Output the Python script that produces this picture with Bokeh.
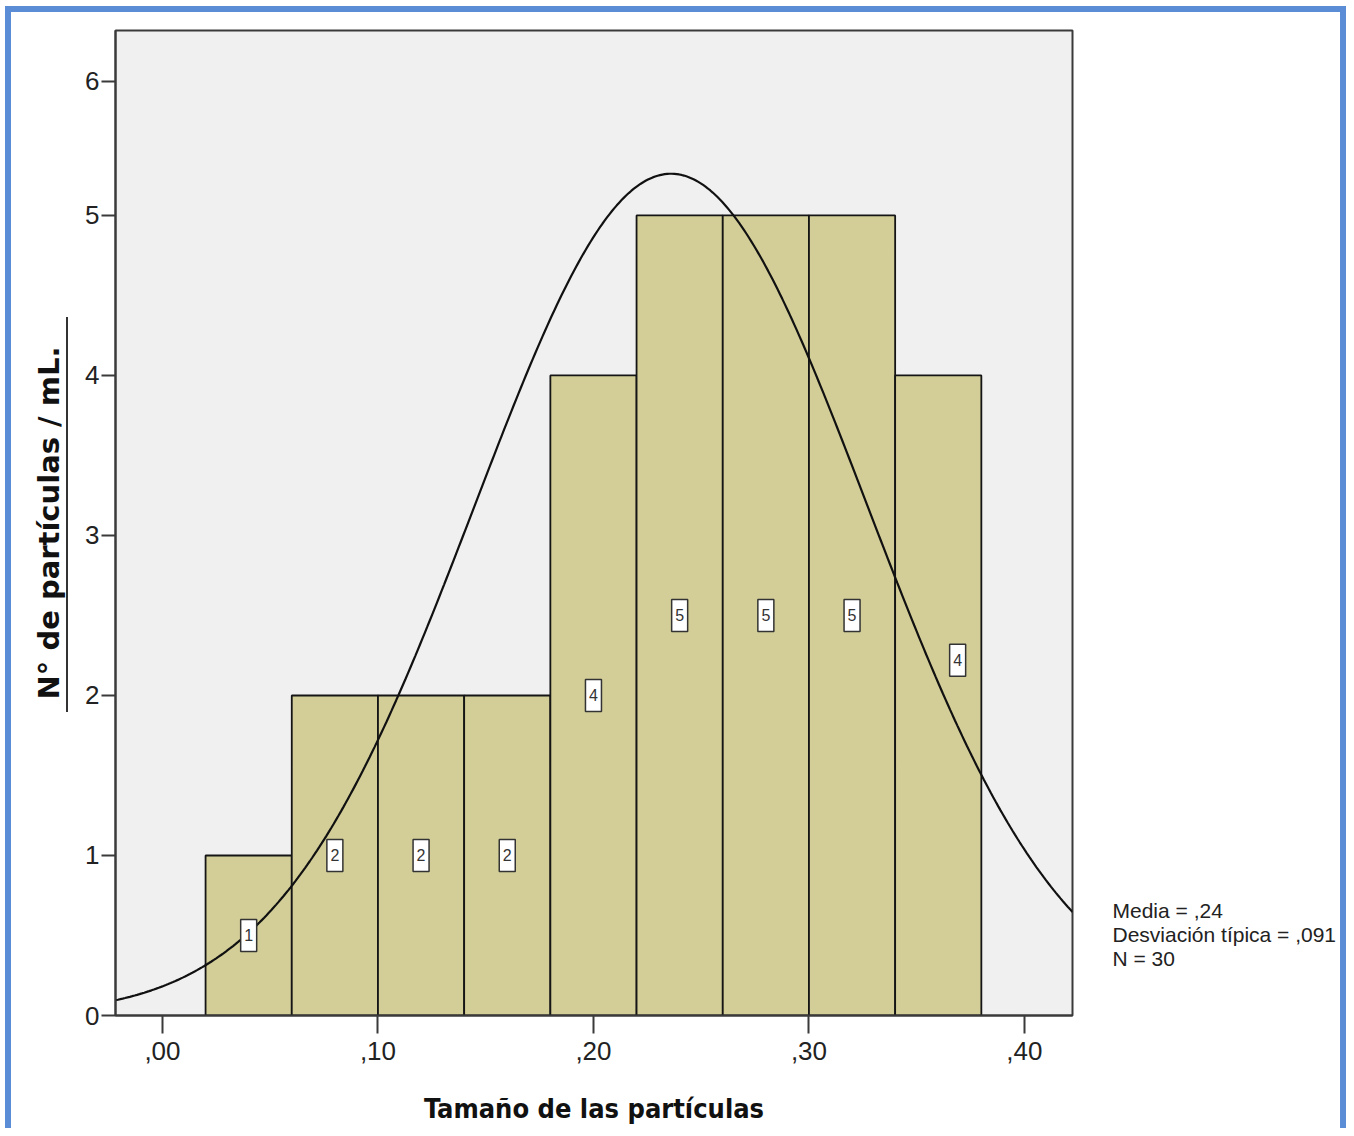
import numpy as np
from bokeh.plotting import figure
from bokeh.models import FixedTicker, ColumnDataSource, Range1d, LinearAxis, InlineStyleSheet
from bokeh.core.properties import value
from bokeh.embed import file_html
from bokeh.resources import INLINE

# ---- data ----
bin_left = [0.02, 0.06, 0.10, 0.14, 0.18, 0.22, 0.26, 0.30, 0.34]
bin_width = 0.04
counts = [1, 2, 2, 2, 4, 5, 5, 5, 4]
mean_val = 0.236
sd_val = 0.091
n_val = 30
x_ticks = [0.0, 0.1, 0.2, 0.3, 0.4]
x_tick_labels = [",00", ",10", ",20", ",30", ",40"]
y_ticks = [0, 1, 2, 3, 4, 5, 5.84]
y_tick_labels = ["0", "1", "2", "3", "4", "5", "6"]
stats_lines = ["Media = ,24", "Desviación típica = ,091", "N = 30"]

SANS = "Liberation Sans"
W, H = 1346, 1128
FL, FT, FR, FB = 115, 30, 1072, 1015  # frame edges in page pixels
Y0, Y1 = 0, 6.156

p = figure(width=W, height=H, output_backend="svg", toolbar_location=None,
           x_range=Range1d(-0.0218, 0.4223), y_range=Range1d(Y0, Y1),
           min_border_left=FL, min_border_right=W - FR, min_border_top=FT, min_border_bottom=H - FB)
p.background_fill_color = "#f0f0f0"
p.border_fill_color = "white"
p.outline_line_color = "#3a3a3a"
p.outline_line_width = 2
p.grid.visible = False

# bars
lefts = np.array(bin_left)
rights = lefts + bin_width
src = ColumnDataSource(dict(left=lefts, right=rights, top=counts, bottom=[0]*len(counts)))
p.quad(left="left", right="right", top="top", bottom="bottom", source=src,
       fill_color="#d3ce98", line_color="#151515", line_width=1.8)

# normal curve from the displayed statistics
xs = np.linspace(-0.0218, 0.4223, 400)
ys = n_val * bin_width / (sd_val * np.sqrt(2 * np.pi)) * np.exp(-0.5 * ((xs - mean_val) / sd_val) ** 2)
p.line(xs, ys, line_color="#111111", line_width=2.2)

# count labels (last one nudged aside from the curve)
lx = list(lefts + bin_width / 2)
ly = [c / 2 for c in counts]
lx[-1] = 0.369
ly[-1] = 2.22
lsrc = ColumnDataSource(dict(x=lx, y=ly, t=[str(c) for c in counts]))
p.rect(x="x", y="y", width=16, height=32, width_units="screen", height_units="screen",
       source=lsrc, fill_color="white", line_color="#333333", line_width=1.5)
p.text(x="x", y="y", text="t", source=lsrc, text_align="center", text_baseline="middle",
       text_font=value(SANS), text_font_size="16px", text_color="#333333")

# axes
p.xaxis.ticker = FixedTicker(ticks=x_ticks)
p.xaxis.major_label_overrides = {t: l for t, l in zip(x_ticks, x_tick_labels)}
p.yaxis.ticker = FixedTicker(ticks=y_ticks)
p.yaxis.major_label_overrides = {t: l for t, l in zip(y_ticks, y_tick_labels)}
for ax in (p.xaxis, p.yaxis):
    ax.minor_tick_line_color = None
    ax.major_tick_in = 0
    ax.axis_line_color = "#3a3a3a"
    ax.axis_line_width = 2
    ax.major_tick_line_color = "#3a3a3a"
    ax.major_tick_line_width = 2
    ax.major_label_text_font = SANS
    ax.major_label_text_font_size = "26px"
    ax.major_label_text_color = "#222222"
p.xaxis.major_tick_out = 18
p.yaxis.major_tick_out = 14
p.xaxis.major_label_standoff = 8
p.yaxis.major_label_standoff = 2

p.xaxis.axis_label = "Tamaño de las partículas"
p.xaxis.axis_label_text_font = "DejaVu Sans Condensed"
p.xaxis.axis_label_text_font_style = "bold"
p.xaxis.axis_label_text_font_size = "27px"
p.xaxis.axis_label_text_color = "#111111"
p.xaxis.axis_label_standoff = 30

p.yaxis.axis_label = "N° de partículas / mL."
p.yaxis.axis_label_text_font = "DejaVu Sans"
p.yaxis.axis_label_text_font_style = "bold"
p.yaxis.axis_label_text_font_size = "29px"
p.yaxis.axis_label_text_color = "#111111"
p.yaxis.axis_label_standoff = 16

# statistics text: a bare right-hand axis whose labels carry the three lines
px_per_unit = (FB - FT) / (Y1 - Y0)
line_centres_px = [910, 934, 958]
stat_pos = [(FB - c) / px_per_unit for c in line_centres_px]
stats_axis = LinearAxis(ticker=FixedTicker(ticks=stat_pos),
                        major_label_overrides={t: s for t, s in zip(stat_pos, stats_lines)})
stats_axis.axis_line_color = None
stats_axis.major_tick_line_color = None
stats_axis.minor_tick_line_color = None
stats_axis.major_tick_in = 0
stats_axis.major_tick_out = 0
stats_axis.major_label_standoff = 1112 - FR
stats_axis.major_label_text_font = SANS
stats_axis.major_label_text_font_size = "21px"
stats_axis.major_label_text_color = "#222222"
p.add_layout(stats_axis, "right")

# frame decorations: blue page border and the rule under the y title
p.stylesheets = [InlineStyleSheet(css="""
:host { position: relative; }
:host::before { content: ""; position: absolute; left: 66px; top: 317px; width: 2px; height: 395px;
                background: #333333; z-index: 20; pointer-events: none; }
:host::after { content: ""; position: absolute; left: 5px; top: 6px; right: 0px; bottom: 0px;
               box-sizing: border-box; border-style: solid; border-color: #5a8dd6;
               border-width: 6px 6px 0px 6px; z-index: 20; pointer-events: none; }
""")]

open("out.html", "w").write(file_html(p, INLINE))
